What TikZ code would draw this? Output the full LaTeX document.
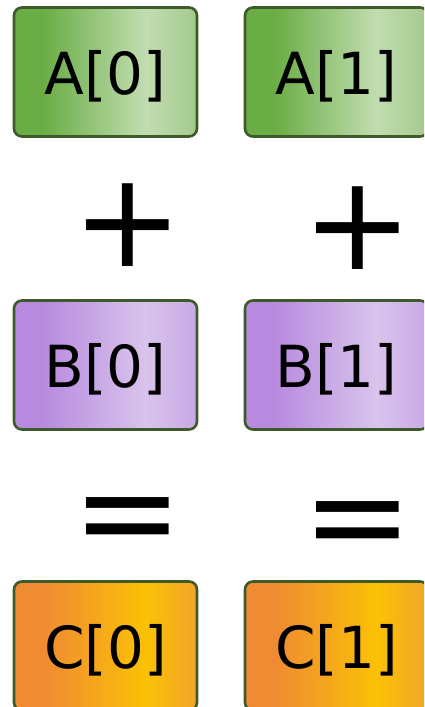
\documentclass[tikz,border=0pt]{standalone}
\usepackage{fontspec}
\setmainfont{DejaVu Sans}
\definecolor{gA}{HTML}{6AAD45}
\definecolor{gB}{HTML}{C2DDB1}
\definecolor{gC}{HTML}{A3C98C}
\definecolor{pA}{HTML}{B78ADF}
\definecolor{pB}{HTML}{D9C4EC}
\definecolor{pC}{HTML}{C9A8E6}
\definecolor{oA}{HTML}{EF8B33}
\definecolor{oB}{HTML}{FBC105}
\definecolor{oC}{HTML}{F2A52A}
\definecolor{edge}{HTML}{3E5A2B}
\pgfdeclarehorizontalshading{greenfill}{100bp}{color(0bp)=(gA); color(33bp)=(gA); color(61bp)=(gB); color(75bp)=(gC); color(100bp)=(gC)}
\pgfdeclarehorizontalshading{purplefill}{100bp}{color(0bp)=(pA); color(33bp)=(pA); color(61bp)=(pB); color(75bp)=(pC); color(100bp)=(pC)}
\pgfdeclarehorizontalshading{orangefill}{100bp}{color(0bp)=(oA); color(33bp)=(oA); color(61bp)=(oB); color(75bp)=(oC); color(100bp)=(oC)}
% lower the label a little while keeping its box size
\newcommand\celltext[1]{\raisebox{-4pt}[\height][\depth]{#1}}
\tikzset{
  cell/.style={draw=edge, line width=2.6pt, rounded corners=8pt, minimum width=183pt,
    minimum height=129pt, inner sep=0pt, font=\fontsize{58}{60}\selectfont},
  acell/.style={cell, shading=greenfill},
  bcell/.style={cell, shading=purplefill},
  ccell/.style={cell, shading=orangefill},
  op/.style={inner sep=0pt, font=\fontsize{132}{134}\selectfont}
}
\begin{document}
\begin{tikzpicture}[x=1pt,y=1pt]
\useasboundingbox (0,0) rectangle (424,707);
\clip (0,0) rectangle (424,707);
% row A
\node[acell] (a0) at (105.5,635) {\celltext{A[0]}};
\node[acell] (a1) at (336.5,635) {\celltext{A[1]}};
% plus signs
\node[op] (p0) at (128,482) {+};
\node[op] (p1) at (358,479) {+};
% row B
\node[bcell] (b0) at (105.5,342) {\celltext{B[0]}};
\node[bcell] (b1) at (336.5,342) {\celltext{B[1]}};
% equals signs
\node[op] (e0) at (128,179) {=};
\node[op] (e1) at (358,175) {=};
% row C
\node[ccell] (c0) at (105.5,61) {\celltext{C[0]}};
\node[ccell] (c1) at (336.5,61) {\celltext{C[1]}};
\end{tikzpicture}
\end{document}
